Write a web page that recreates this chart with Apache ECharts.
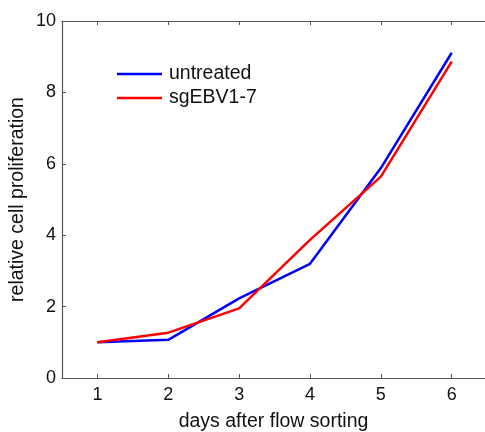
<!DOCTYPE html>
<html>
<head>
<meta charset="utf-8">
<script src="https://cdn.jsdelivr.net/npm/echarts@6/dist/echarts.min.js"></script>
<style>html,body{margin:0;padding:0;background:#fff;}#c{width:485px;height:432px;}</style>
</head>
<body>
<div id="c"></div>
<script>
const days = [1, 2, 3, 4, 5, 6];
const untreated = [1.0, 1.07, 2.23, 3.2, 5.88, 9.11];
const sgEBV = [1.0, 1.27, 1.95, 3.87, 5.64, 8.86];
const yTicks = [0, 2, 4, 6, 8, 10];
const font = 'Liberation Sans, Arial, Helvetica, sans-serif';

const chart = echarts.init(document.getElementById('c'));
const axisLine = { show: true, lineStyle: { color: '#555', width: 1.2 } };
chart.setOption({
  animation: false,
  grid: { left: 62, right: 0, top: 21, bottom: 54, containLabel: false, outerBoundsMode: 'none' },
  legend: {
    left: 112, top: 59, orient: 'vertical', itemWidth: 45, itemHeight: 2.5, itemGap: 4,
    icon: 'rect', itemStyle: { borderWidth: 0 },
    textStyle: { fontFamily: font, fontSize: 19.5, color: '#111', lineHeight: 20, padding: [0, 0, 0, 2] },
    data: ['untreated', 'sgEBV1-7']
  },
  xAxis: [{
    type: 'value', min: 0.5, max: 6.47,
    axisLine: axisLine,
    axisTick: { show: true, inside: true, length: 4, lineStyle: { color: '#555' }, customValues: days },
    axisLabel: { fontFamily: font, fontSize: 18, color: '#111', margin: 8, customValues: days },
    splitLine: { show: false },
    name: 'days after flow sorting', nameLocation: 'middle', nameGap: 34,
    nameTextStyle: { fontFamily: font, fontSize: 19.5, color: '#111' }
  }, {
    type: 'value', position: 'top', min: 0.5, max: 6.47,
    axisLine: axisLine,
    axisTick: { show: true, inside: true, length: 4, lineStyle: { color: '#555' }, customValues: days },
    axisLabel: { show: false },
    splitLine: { show: false }
  }],
  yAxis: {
    type: 'value', min: 0, max: 10, interval: 2,
    axisLine: axisLine,
    axisTick: { show: true, inside: true, length: 4, lineStyle: { color: '#555' } },
    axisLabel: { fontFamily: font, fontSize: 18, color: '#111', margin: 6 },
    splitLine: { show: false },
    name: 'relative cell proliferation', nameLocation: 'middle', nameGap: 34, nameMoveOverlap: false,
    nameTextStyle: { fontFamily: font, fontSize: 19.5, color: '#111' }
  },
  series: [{
    name: 'untreated', type: 'line', data: days.map((d, i) => [d, untreated[i]]),
    showSymbol: false, symbol: 'none', color: '#0000ff',
    lineStyle: { color: '#0000ff', width: 2.5 }
  }, {
    name: 'sgEBV1-7', type: 'line', data: days.map((d, i) => [d, sgEBV[i]]),
    showSymbol: false, symbol: 'none', color: '#ff0000',
    lineStyle: { color: '#ff0000', width: 2.5 }
  }]
});
</script>
</body>
</html>
